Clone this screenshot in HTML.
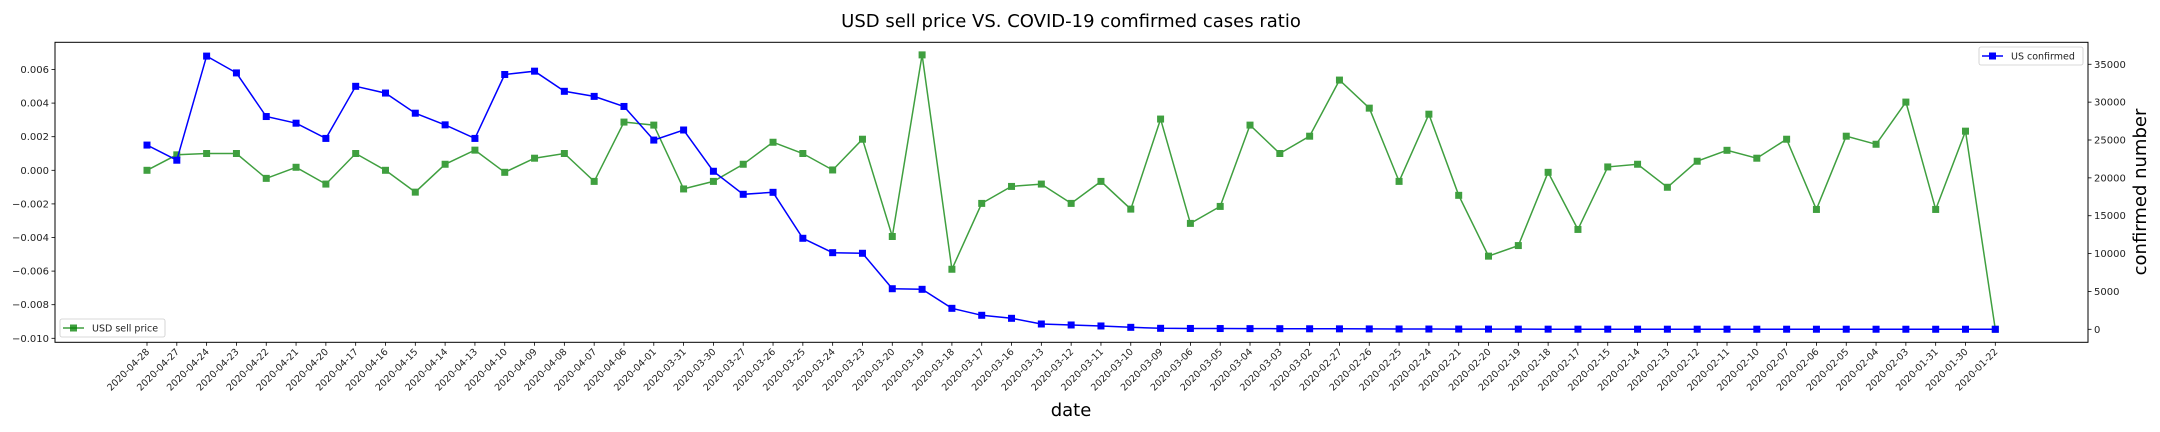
<!DOCTYPE html>
<html><head><meta charset="utf-8"><style>
html,body{margin:0;padding:0;background:#fff;}
svg{display:block;font-family:"DejaVu Sans","Liberation Sans",sans-serif;}
</style></head><body>
<svg id="chart" width="2160" height="432" viewBox="0 0 2160 432" xmlns="http://www.w3.org/2000/svg"></svg>
<script>
const dates = ["2020-04-28","2020-04-27","2020-04-24","2020-04-23","2020-04-22","2020-04-21","2020-04-20","2020-04-17","2020-04-16","2020-04-15","2020-04-14","2020-04-13","2020-04-10","2020-04-09","2020-04-08","2020-04-07","2020-04-06","2020-04-01","2020-03-31","2020-03-30","2020-03-27","2020-03-26","2020-03-25","2020-03-24","2020-03-23","2020-03-20","2020-03-19","2020-03-18","2020-03-17","2020-03-16","2020-03-13","2020-03-12","2020-03-11","2020-03-10","2020-03-09","2020-03-06","2020-03-05","2020-03-04","2020-03-03","2020-03-02","2020-02-27","2020-02-26","2020-02-25","2020-02-24","2020-02-21","2020-02-20","2020-02-19","2020-02-18","2020-02-17","2020-02-15","2020-02-14","2020-02-13","2020-02-12","2020-02-11","2020-02-10","2020-02-07","2020-02-06","2020-02-05","2020-02-04","2020-02-03","2020-01-31","2020-01-30","2020-01-22"];
const usdSell = [0,0.00092,0.0010,0.0010,-0.00048,0.00018,-0.00082,0.0010,0,-0.0013,0.00036,0.0012,-0.00012,0.00072,0.0010,-0.00066,0.00287,0.00269,-0.00111,-0.00066,0.00036,0.00167,0.0010,0.00002,0.00185,-0.00394,0.00687,-0.00589,-0.00197,-0.00096,-0.00082,-0.00197,-0.00066,-0.00231,0.00305,-0.00316,-0.00215,0.00269,0.0010,0.00203,0.00537,0.0037,-0.00066,0.00334,-0.00149,-0.00511,-0.00448,-0.00012,-0.00352,0.0002,0.00036,-0.00101,0.00054,0.00119,0.00072,0.00185,-0.00233,0.00203,0.00155,0.00406,-0.00233,0.00233,-0.00946];
const usConfirmed = [24330,22330,36080,33860,28100,27220,25210,32090,31200,28540,27000,25210,33650,34090,31430,30760,29430,24990,26320,20870,17830,18090,12020,10120,10040,5360,5280,2770,1850,1450,700,570,440,260,130,110,100,90,80,70,60,50,40,35,30,25,20,18,16,15,14,13,12,12,11,11,10,10,9,8,7,6,1];
const leftTicks = [0.006,0.004,0.002,0.000,-0.002,-0.004,-0.006,-0.008,-0.010];
const leftTickLabels = ["0.006","0.004","0.002","0.000","\u22120.002","\u22120.004","\u22120.006","\u22120.008","\u22120.010"];
const rightTicks = [35000,30000,25000,20000,15000,10000,5000,0];

const svg = document.getElementById('chart');
const NS = 'http://www.w3.org/2000/svg';
const L = 55, R = 2088, T = 42.3, B = 342.3;
const x0 = 147, x1 = 1995.3;
function xPos(i){ return x0 + (x1 - x0) * i / (dates.length - 1); }
function yLeft(v){ return 170.3 - v * 16800; }
function yRight(v){ return 329.3 - v * 37.86 / 5000; }
function mk(tag, attrs, parent){
  const e = document.createElementNS(NS, tag);
  for (const k in attrs) e.setAttribute(k, attrs[k]);
  (parent || svg).appendChild(e);
  return e;
}

const title = mk('text', {x:1071, y:27, 'text-anchor':'middle', 'font-size':'18'});


title.textContent = 'USD sell price VS. COVID-19 comfirmed cases ratio';

const gLeft = mk('g', {});


leftTicks.forEach((v, i) => {
  const y = yLeft(v);
  mk('line', {x1:L-3.5, x2:L, y1:y, y2:y, stroke:'#000', 'stroke-width':0.8}, gLeft);
  const t = mk('text', {x:L-6, y:y+3.5, 'text-anchor':'end', 'font-size':'10', fill:'#222'}, gLeft);
  
  
  t.textContent = leftTickLabels[i];
});

const gRight = mk('g', {});


rightTicks.forEach(v => {
  const y = yRight(v);
  mk('line', {x1:R, x2:R+3.5, y1:y, y2:y, stroke:'#000', 'stroke-width':0.8}, gRight);
  const t = mk('text', {x:R+6, y:y+3.5, 'font-size':'10', fill:'#222'}, gRight);
  
  
  t.textContent = String(v);
});

const gX = mk('g', {});


dates.forEach((d, i) => {
  const x = xPos(i);
  mk('line', {x1:x, x2:x, y1:B, y2:B+3.5, stroke:'#000', 'stroke-width':0.8}, gX);
  const t = mk('text', {x:x+3, y:B+10, 'text-anchor':'end', 'font-size':'9.5', fill:'#222', transform:`rotate(-45 ${x+3} ${B+10})`}, gX);
  
  
  t.textContent = d;
});

const xl = mk('text', {x:1071, y:416, 'text-anchor':'middle', 'font-size':'18'});


xl.textContent = 'date';
const yl = mk('text', {x:2146, y:192, 'text-anchor':'middle', 'font-size':'18', transform:'rotate(-90 2146 192)'});


yl.textContent = 'confirmed number';

function series(vals, yf, color, opacity, name){
  const g = mk('g', {opacity: opacity});
  
  
  const pts = vals.map((v, i) => xPos(i).toFixed(1) + ',' + yf(v).toFixed(1)).join(' ');
  mk('polyline', {points:pts, fill:'none', stroke:color, 'stroke-width':1.5}, g);
  vals.forEach((v, i) => {
    const r = mk('rect', {x:xPos(i)-3.5, y:yf(v)-3.5, width:7, height:7, fill:color}, g);
    
    
  });
}
series(usdSell, yLeft, '#008000', 0.75, 'usd-sell-price-series');
series(usConfirmed, yRight, '#0000ff', 1, 'us-confirmed-series');

const frame = mk('rect', {x:L, y:T, width:R-L, height:B-T, fill:'none', stroke:'#000', 'stroke-width':1});



const lg1 = mk('g', {});


mk('rect', {x:60, y:319, width:105, height:18, rx:2, fill:'#fff', stroke:'#ccc', 'stroke-width':0.8}, lg1);
mk('line', {x1:63, x2:84, y1:328, y2:328, stroke:'#008000', 'stroke-width':1.5, opacity:0.75}, lg1);
mk('rect', {x:70, y:324.5, width:7, height:7, fill:'#008000', opacity:0.75}, lg1);
const lt1 = mk('text', {x:92, y:331.5, 'font-size':'9.5', fill:'#222'}, lg1);
lt1.textContent = 'USD sell price';

const lg2 = mk('g', {});


mk('rect', {x:1979, y:47, width:104, height:18, rx:2, fill:'#fff', stroke:'#ccc', 'stroke-width':0.8}, lg2);
mk('line', {x1:1982, x2:2003, y1:56, y2:56, stroke:'#0000ff', 'stroke-width':1.5}, lg2);
mk('rect', {x:1989, y:52.5, width:7, height:7, fill:'#0000ff'}, lg2);
const lt2 = mk('text', {x:2011, y:59.5, 'font-size':'9.5', fill:'#222'}, lg2);
lt2.textContent = 'US confirmed';
</script>
</body></html>
